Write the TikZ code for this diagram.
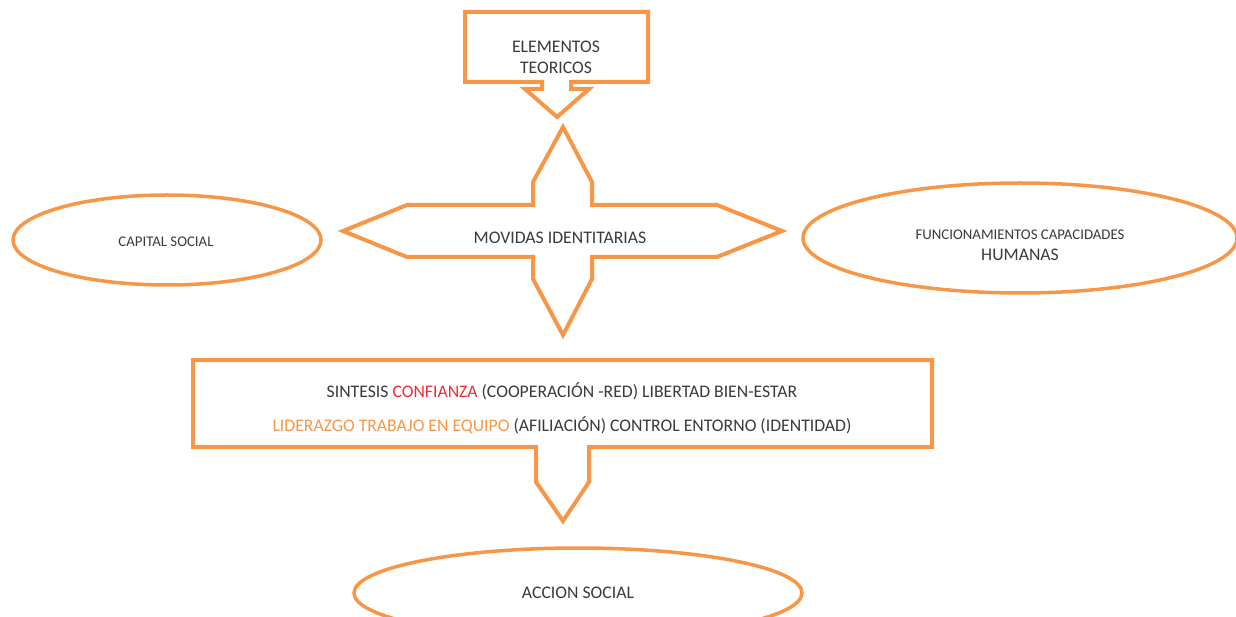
\documentclass[tikz,border=0pt]{standalone}
\usepackage{fontspec}
\setmainfont{Carlito}
\usepackage{xcolor}
\usepackage{tikz}
\usetikzlibrary{shapes.geometric}
\definecolor{accent}{HTML}{F79646}
\definecolor{red2}{HTML}{F22B33}
\definecolor{ink}{HTML}{3A3A3A}

\begin{document}
\begin{tikzpicture}[
    x=1pt,y=-1pt,
    font=\fontsize{17.7}{21}\selectfont,
    txt/.style={text=ink,align=center,inner sep=0pt},
    small/.style={font=\fontsize{14.8}{18}\selectfont},
    outline/.style={draw=accent,line width=4pt,line join=miter},
    oval/.style={ellipse,draw=accent,line width=3.5pt,inner sep=0pt},
  ]
  \clip (0,0) rectangle (1236,617);

  % top box with down arrow
  \draw[outline] (465,12) -- (648,12) -- (648,82) -- (571,82) -- (571,89) -- (589,89)
    -- (557,117) -- (525,89) -- (542,89) -- (542,82) -- (465,82) -- cycle;
  \node[txt] (elem) at (556,57) {ELEMENTOS\\TEORICOS};

  % four way arrow
  \draw[outline] (563,127) -- (592,182) -- (592,205) -- (717,205) -- (782,231)
    -- (717,257) -- (592,257) -- (592,279) -- (563,335) -- (533,279) -- (533,257)
    -- (407,257) -- (343,231) -- (407,205) -- (533,205) -- (533,182) -- cycle;
  \node[txt] (mov) at (560,238) {MOVIDAS IDENTITARIAS};

  \node[oval,minimum width=308pt,minimum height=90pt] (cap) at (167,240) {};
  \node[txt,small] at (166,242) {CAPITAL SOCIAL};

  \node[oval,minimum width=434pt,minimum height=110pt] (func) at (1020,238) {};
  \node[txt] at (1020,245) {{\fontsize{14.8}{18}\selectfont FUNCIONAMIENTOS CAPACIDADES}\\HUMANAS};

  % synthesis box with down arrow
  \draw[outline] (193,360) -- (932,360) -- (932,447) -- (589,447) -- (589,482)
    -- (563,521) -- (536,482) -- (536,447) -- (193,447) -- cycle;
  \node[txt] (sint) at (562,391) {SINTESIS \textcolor{red2}{CONFIANZA} (COOPERACIÓN -RED) LIBERTAD BIEN-ESTAR};
  \node[txt] (lid) at (562,425) {\textcolor{accent}{LIDERAZGO TRABAJO EN EQUIPO} (AFILIACIÓN) CONTROL ENTORNO (IDENTIDAD)};

  \node[oval,minimum width=448pt,minimum height=90pt] (acc) at (578,593) {};
  \node[txt] at (acc) {ACCION SOCIAL};
\end{tikzpicture}
\end{document}
